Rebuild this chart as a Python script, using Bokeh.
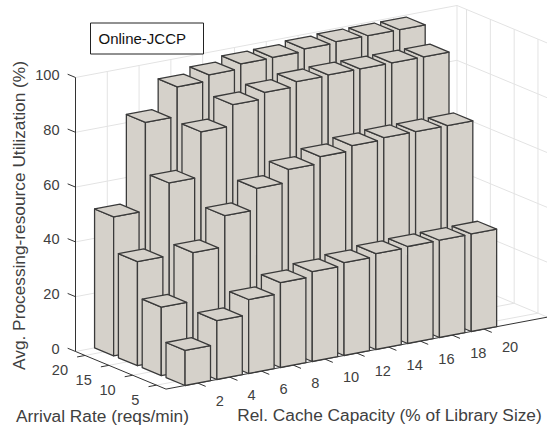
from bokeh.plotting import figure
from bokeh.models import Range1d
from bokeh.core.properties import value
from bokeh.embed import file_html
from bokeh.resources import INLINE
import math

capacity = [2, 4, 6, 8, 10, 12, 14, 16, 18, 20]
arrival = [5, 10, 15, 20]
util_5 = [12.8, 21.5, 27.0, 31.0, 32.8, 33.9, 35.0, 35.4, 35.5, 35.6]
util_10 = [25.0, 42.7, 54.0, 61.8, 66.5, 69.0, 70.8, 71.5, 71.5, 71.5]
util_15 = [38.0, 64.5, 81.0, 88.7, 91.0, 92.7, 93.0, 93.0, 93.0, 93.0]
util_20 = [50.7, 83.0, 93.8, 96.0, 97.8, 98.0, 98.9, 99.3, 99.3, 99.3]
util = {5: util_5, 10: util_10, 15: util_15, 20: util_20}
z_ticks = [0, 20, 40, 60, 80, 100]

XLIM = (0, 24)
YLIM = (3, 22)
ZLIM = (0, 100)
BAR_X = 0.8
BAR_Y = 2.0

AXIS = "#333333"
GRID = "#e3e3e3"
TEXT = "#404040"
FILL = "#d5d1ca"
EDGE = "#3a3a3a"
FONT = value("Liberation Sans")
TICK_SIZE = "14.6px"


def proj(x, y, z):
    """Orthographic projection of the 3D box to the picture plane."""
    sx = 165.5 + 15.896 * x - 4.763 * (y - 3)
    sy = 388.6 - 3.0 * x - 1.979 * (y - 3) - 2.74 * z
    return sx, sy


def seg(*pts):
    p2 = [proj(*q) for q in pts]
    return [a[0] for a in p2], [a[1] for a in p2]


p = figure(width=547, height=428, output_backend="svg", toolbar_location=None,
           x_range=Range1d(0, 547), y_range=Range1d(428, 0), min_border=0)
p.axis.visible = False
p.grid.visible = False
p.outline_line_color = None
p.background_fill_color = "white"

# walls and floor grid
x0, x1 = XLIM
y0, y1 = YLIM
gx, gy = [], []
for z in z_ticks:
    a, b = seg((x0, y1, z), (x1, y1, z), (x1, y0, z))
    gx.append(a); gy.append(b)
for x in capacity:
    a, b = seg((x, y0, 0), (x, y1, 0), (x, y1, 100))
    gx.append(a); gy.append(b)
for y in arrival:
    a, b = seg((x0, y, 0), (x1, y, 0), (x1, y, 100))
    gx.append(a); gy.append(b)
a, b = seg((x1, y1, 0), (x1, y1, 100))
gx.append(a); gy.append(b)
p.multi_line(gx, gy, line_color=GRID, line_width=1)

# axis lines
ax, ay = [], []
for s in (((x0, y1, 0), (x0, y1, 100)),
          ((x0, y1, 0), (x0, y0, 0)),
          ((x0, y0, 0), (x1, y0, 0))):
    a, b = seg(*s)
    ax.append(a); ay.append(b)
for z in z_ticks:
    a, b = seg((x0, y1, z), (x0, y1 + 1.65, z))
    ax.append(a); ay.append(b)
for x in capacity:
    a, b = seg((x, y0, 0), (x, y0 - 1.65, 0))
    ax.append(a); ay.append(b)
for y in arrival:
    a, b = seg((x0, y, 0), (x0 - 0.5, y, 0))
    ax.append(a); ay.append(b)
p.multi_line(ax, ay, line_color=AXIS, line_width=1)

# bars, painted back to front
fx, fy = [], []
for y in reversed(arrival):
    row = util[y]
    for i in range(len(capacity) - 1, -1, -1):
        x = capacity[i]
        h = row[i]
        xa, xb = x - BAR_X, x + BAR_X
        ya, yb = y - BAR_Y, y + BAR_Y
        faces = [
            ((xa, ya, 0), (xa, yb, 0), (xa, yb, h), (xa, ya, h)),
            ((xa, ya, 0), (xb, ya, 0), (xb, ya, h), (xa, ya, h)),
            ((xa, ya, h), (xb, ya, h), (xb, yb, h), (xa, yb, h)),
        ]
        for f in faces:
            a, b = seg(*f)
            fx.append(a); fy.append(b)
p.patches(fx, fy, fill_color=FILL, line_color=EDGE, line_width=1.3, line_join="round")

# tick labels
for z in z_ticks:
    sx, sy = proj(x0, y1, z)
    p.text([sx - 16], [sy - 2.5], text=[str(z)], text_font=FONT, text_font_size=TICK_SIZE,
           text_color=TEXT, text_align="right", text_baseline="middle")
for x in capacity:
    sx, sy = proj(x, y0, 0)
    p.text([sx + 18], [sy + 17.5], text=[str(x)], text_font=FONT, text_font_size=TICK_SIZE,
           text_color=TEXT, text_align="left", text_baseline="middle")
for y in arrival:
    sx, sy = proj(x0, y, 0)
    p.text([sx - 17], [sy + 15], text=[str(y)], text_font=FONT, text_font_size=TICK_SIZE,
           text_color=TEXT, text_align="right", text_baseline="middle")

# axis titles
p.text([18], [215], text=["Avg. Processing-resource Utilization (%)"], angle=math.pi / 2,
       text_font=FONT, text_font_size="17.3px", text_color=TEXT,
       text_align="center", text_baseline="middle")
p.text([102], [415], text=["Arrival Rate (reqs/min)"], text_font=FONT, text_font_size="17.3px",
       text_color=TEXT, text_align="center", text_baseline="middle")
p.text([389], [414], text=["Rel. Cache Capacity (% of Library Size)"], text_font=FONT,
       text_font_size="17.3px", text_color=TEXT, text_align="center", text_baseline="middle")

# annotation box
p.quad(left=[90], right=[203], top=[22.5], bottom=[53.5], fill_color="white",
       line_color="#222222", line_width=1)
p.text([98], [38], text=["Online-JCCP"], text_font=FONT, text_font_size="15px",
       text_color="#111111", text_align="left", text_baseline="middle")

open("out.html", "w").write(file_html(p, INLINE))
